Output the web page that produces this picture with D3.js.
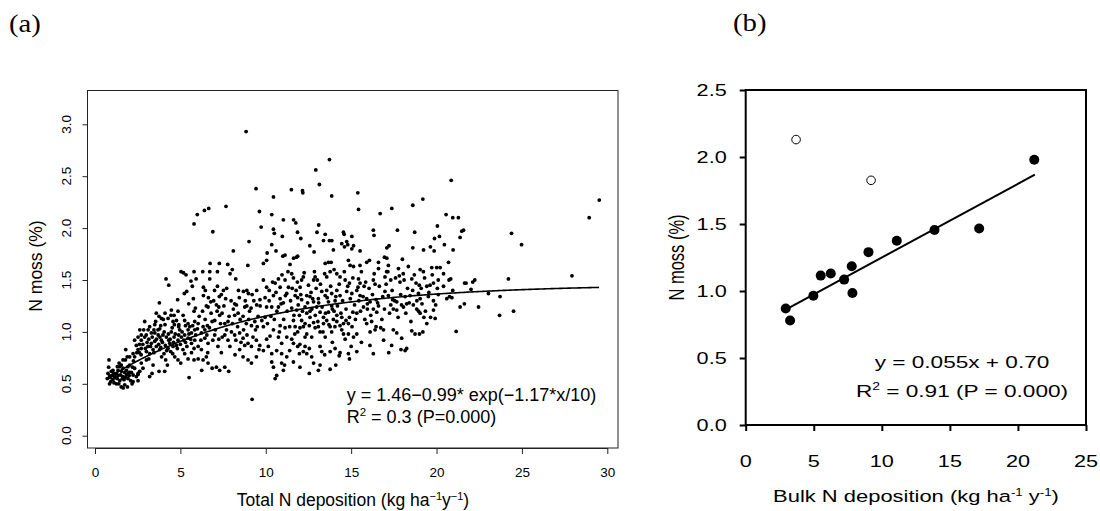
<!DOCTYPE html>
<html><head><meta charset="utf-8">
<script src="https://cdn.jsdelivr.net/npm/d3@7"></script>
<style>
body{margin:0;background:#fff}
svg{display:block}
text{font-family:"Liberation Sans",Arial,Helvetica,sans-serif;fill:#000}
</style>
</head><body>
<svg id="c" width="1100" height="511"></svg>
<script>
// ---------- Panel (a): total N deposition vs N moss ----------
const pointsA = [
// low-deposition cluster
[0.76,0.60],[0.86,0.575],[0.96,0.62],[0.72,0.55],[0.92,0.52],[1.05,0.54],[1.15,0.57],[1.25,0.60],[1.35,0.63],[1.45,0.665],
[1.54,0.68],[1.64,0.65],[1.74,0.61],[1.84,0.63],[1.93,0.665],[2.03,0.68],[2.13,0.61],[2.23,0.585],[2.32,0.65],[1.39,0.50],
[1.54,0.47],[1.74,0.49],[1.25,0.50],[1.11,0.51],[1.93,0.55],[2.09,0.53],[1.64,0.57],[1.5,0.585],[1.84,0.585],[2.03,0.61],
[2.17,0.50],[2.42,0.57],[2.52,0.60],[1.78,0.73],[1.89,0.76],[1.64,0.73],[1.41,0.70],[1.31,0.665],[1.05,0.63],[0.82,0.73],
[0.8,0.66],[0.9,0.56],[1.0,0.58],[1.2,0.56],[1.3,0.55],[1.45,0.53],[1.6,0.55],[1.7,0.54],[1.8,0.56],[2.0,0.58],
[0.85,0.5],[1.1,0.6],[1.35,0.58],[1.55,0.62],[1.95,0.6],[2.2,0.66],[1.65,0.46],[1.9,0.47],[1.8,0.83],[2.25,0.72],
// x < 9.7, upper part
[8.85,2.93],[9.43,2.38],[7.67,2.21],[6.66,2.19],[6.41,2.17],[5.99,2.13],[5.8,2.04],[6.9,1.965],[9.63,2.16],[9.02,1.87],
[8.1,1.78],[8.95,1.64],[7.28,1.66],[7.77,1.65],[8.04,1.60],[6.74,1.66],[5.04,1.58],[5.18,1.57],[5.33,1.55],[5.8,1.58],
[6.31,1.58],[6.72,1.58],[7.17,1.58],[7.91,1.56],[8.24,1.51],[4.16,1.51],[4.32,1.45],[5.92,1.51],[5.62,1.49],[6.72,1.51],
[5.7,1.44],[6.35,1.43],[6.46,1.40],[7.17,1.44],[7.71,1.42],[7.52,1.40],[7.4,1.36],[7.0,1.40],[5.37,1.39],[5.23,1.37],
[4.84,1.31],[5.76,1.32],[6.64,1.33],[7.28,1.34],[7.97,1.30],[8.69,1.39],[8.89,1.40],[8.98,1.37],[8.4,1.40],[9.47,1.40],
[9.66,1.31],[3.77,1.28],[8.89,1.25],[9.14,1.23],[9.47,1.26],
// x < 9.7, middle and lower part
[5.49,1.27],[5.88,1.23],[5.8,1.20],[4.86,1.20],[6.52,1.25],[6.62,1.24],[7.11,1.26],[7.25,1.24],[8.18,1.27],[8.28,1.26],
[8.77,1.24],[6.78,1.29],[3.59,1.18],[3.75,1.15],[2.91,1.10],[4.1,1.18],[4.28,1.13],[4.47,1.21],[4.63,1.16],[4.77,1.11],
[4.91,1.07],[5.16,1.16],[5.25,1.11],[5.45,1.08],[5.55,1.05],[5.84,1.10],[6.04,1.08],[6.33,1.05],[6.43,1.02],[6.58,1.06],
[6.86,1.10],[7.01,1.11],[7.3,1.16],[7.44,1.18],[7.6,1.08],[7.79,1.10],[8.18,1.16],[8.38,1.18],[8.67,1.15],[8.86,1.08],
[9.16,1.06],[9.36,1.10],[2.62,1.02],[2.71,0.97],[3.11,1.02],[3.3,0.99],[3.5,0.99],[3.69,1.02],[3.85,1.06],[3.98,0.97],
[4.18,0.95],[4.32,0.92],[4.47,1.00],[4.63,0.95],[4.86,0.92],[5.06,0.95],[5.25,0.97],[5.45,0.94],[5.65,0.89],[5.84,0.92],
[6.04,0.86],[6.23,0.83],[6.43,0.94],[6.62,0.89],[7.01,0.97],[7.25,0.93],[7.6,0.97],[7.79,0.92],[7.99,1.00],[8.18,0.97],
[8.47,0.99],[8.67,0.94],[8.77,0.87],[8.96,0.89],[9.16,0.86],[9.45,0.92],[9.65,0.87],[2.42,0.87],[2.52,0.83],[2.71,0.84],
[3.01,0.81],[3.2,0.79],[3.4,0.83],[3.59,0.86],[3.79,0.83],[4.04,0.79],[4.28,0.84],[4.43,0.81],[4.86,0.73],[5.02,0.70],
[4.67,0.76],[5.25,0.79],[5.45,0.74],[5.8,0.73],[6.04,0.74],[6.33,0.73],[6.52,0.76],[6.62,0.70],[6.86,0.65],[7.11,0.66],
[7.3,0.63],[7.6,0.66],[7.83,0.62],[8.47,0.83],[8.67,0.76],[8.96,0.73],[9.16,0.70],[9.45,0.76],[4.14,0.73],[4.24,0.68],
[3.4,0.68],[3.01,0.73],[2.71,0.70],[5.51,0.56],[9.2,0.35],[3.75,0.62],[4.08,0.62],[3.2,0.57],[3.34,0.60],[2.52,0.59],
[2.62,0.62],[2.81,0.65],[2.23,0.52],[2.52,0.53],[2.32,0.92],[2.52,0.95],[2.71,0.92],[2.91,0.95],[3.15,0.93],[3.3,0.89],
[3.5,0.91],[3.73,0.88],[3.89,0.92],[4.12,0.87],[4.38,0.89],[4.57,0.86],[4.77,0.87],[2.03,0.76],[2.23,0.79],[2.32,0.76],
[3.5,1.07],[3.79,1.03],[4.1,1.07],[3.2,1.05],[3.89,1.13],[4.57,1.10],[4.96,1.02],[5.45,1.02],[5.84,1.02],[6.23,0.99],
[5.65,0.99],[6.25,0.63],
[2.6,0.80],[2.8,0.88],[2.95,0.84],[3.05,0.90],[3.25,0.86],[3.35,0.95],[3.45,0.80],[3.6,0.93],[3.7,0.97],[3.85,0.85],
[3.95,0.90],[4.05,1.00],[4.2,0.82],[4.3,0.98],[4.4,0.93],[4.52,1.04],[4.6,0.90],[4.7,0.98],[4.82,0.84],[4.9,1.05],
[5.0,0.88],[5.1,1.00],[5.2,0.92],[5.3,1.06],[5.38,0.86],[5.5,0.98],[5.6,0.93],[5.72,1.06],[5.8,0.84],[5.9,0.97],
[6.0,1.03],[2.85,1.02],[3.0,0.97],[3.55,1.10],[4.0,1.12],[4.45,1.16],[2.7,0.78],[3.15,0.74],[3.9,0.76],[4.55,0.79],
[5.15,0.83],[5.65,0.80],[2.45,0.80],[2.6,0.88],[3.45,1.02],[4.9,0.97],[5.3,0.90],[3.1,0.86],[3.8,0.95],[4.65,1.07],
[6.1,1.15],[6.2,0.92],[6.3,1.20],[6.45,1.12],[6.55,0.97],[6.7,1.04],[6.8,1.18],[6.9,0.92],[7.05,1.02],[7.15,1.20],
[7.2,0.86],[7.35,1.08],[7.45,0.95],[7.55,1.25],[7.7,1.02],[7.85,1.15],[7.9,0.86],[8.05,1.08],[8.1,1.22],[8.25,0.92],
[8.35,1.05],[8.5,1.12],[8.55,0.90],[8.7,1.02],[8.8,1.30],[8.9,0.97],[9.0,1.12],[9.05,1.20],[9.25,0.95],[9.3,1.30],
[9.4,1.02],[9.55,1.15],[9.6,0.83],[6.35,1.35],[6.95,1.30],[7.65,1.32],[8.45,1.33],[9.2,1.36],[7.4,0.80],[8.2,0.78],
[6.6,0.80],[9.5,1.05],
// 9.7 <= x <= 20.2, upper part
[13.73,2.66],[12.93,2.56],[13.14,2.42],[11.5,2.37],[12.15,2.36],[12.17,2.34],[13.86,2.31],[10.45,2.30],[10.35,2.13],[9.73,2.01],
[10.45,1.99],[10.5,1.95],[11.03,2.08],[11.63,2.08],[11.76,2.05],[11.86,1.96],[12.05,1.90],[12.58,1.83],[13.1,2.03],[13.0,1.96],
[13.48,1.94],[13.38,1.88],[13.87,1.88],[13.73,1.88],[10.35,1.84],[10.6,1.78],[10.97,1.92],[10.08,1.76],[11.0,1.73],[11.13,1.74],
[11.87,1.73],[12.83,1.77],[13.96,1.79],[11.63,1.71],[11.8,1.72],
[15.39,2.34],[15.43,2.18],[16.7,2.14],[17.38,2.19],[18.61,2.22],[19.2,2.28],[20.05,2.02],[20.17,1.92],[19.88,1.90],[19.24,1.79],
[19.64,1.82],[19.86,1.78],[17.71,1.98],[18.72,1.96],[16.3,1.98],[16.34,1.93],[15.04,1.92],[14.55,1.96],[14.59,1.94],[17.22,1.83],
[17.09,1.81],[16.95,1.72],[17.09,1.71],[18.0,1.70],[18.61,1.81],[15.52,1.78],[15.14,1.83],[15.04,1.80],[14.74,1.87],[14.8,1.84],
[14.45,1.85],[14.61,1.82],
// 9.7 <= x <= 20.2, dense part
[10.05,1.69],[9.86,1.66],[11.42,1.65],[13.48,1.66],[13.67,1.67],[13.83,1.67],[14.84,1.69],[14.94,1.64],[15.14,1.63],[15.52,1.64],
[15.91,1.67],[16.07,1.69],[16.6,1.67],[16.6,1.61],[17.18,1.64],[17.08,1.58],[17.82,1.54],[17.77,1.61],[18.35,1.63],[19.04,1.60],
[19.23,1.58],[19.72,1.62],[20.01,1.62],[11.52,1.56],[11.62,1.52],[12.1,1.50],[12.2,1.53],[12.89,1.53],[13.02,1.50],[12.8,1.50],
[13.57,1.53],[13.77,1.58],[14.16,1.56],[14.35,1.53],[14.65,1.50],[14.9,1.47],[15.43,1.51],[15.52,1.47],[15.76,1.44],[16.3,1.50],
[16.4,1.46],[16.98,1.53],[17.32,1.50],[17.86,1.48],[18.1,1.50],[18.55,1.51],[18.8,1.47],[18.99,1.45],[19.43,1.44],[19.62,1.45],
[19.82,1.47],[20.1,1.50],[10.45,1.35],[10.2,1.40],[10.84,1.43],[11.33,1.43],[11.78,1.40],[11.72,1.35],[11.87,1.33],[12.4,1.35],
[12.59,1.34],[12.75,1.32],[13.28,1.39],[13.48,1.35],[13.57,1.40],[13.86,1.37],[14.16,1.40],[14.35,1.35],[14.74,1.39],[15.04,1.37],
[15.33,1.40],[15.52,1.35],[15.91,1.32],[16.11,1.29],[16.46,1.31],[16.98,1.39],[17.18,1.35],[17.43,1.31],[17.67,1.29],[18.16,1.34],
[18.45,1.35],[18.94,1.37],[19.04,1.32],[19.52,1.34],[19.82,1.30],[20.1,1.36],[9.67,1.25],[10.05,1.24],[10.35,1.24],[10.74,1.24],
[11.03,1.28],[11.52,1.23],[11.81,1.21],[11.97,1.16],[12.3,1.24],[12.4,1.18],[12.59,1.20],[12.98,1.24],[13.18,1.19],[13.38,1.14],
[13.86,1.25],[14.0,1.20],[14.16,1.16],[14.45,1.14],[14.7,1.11],[14.84,1.08],[15.1,1.19],[15.33,1.18],[15.72,1.24],[15.95,1.22],
[16.3,1.22],[16.5,1.19],[16.6,1.25],[17.32,1.26],[17.47,1.22],[17.67,1.21],[18.06,1.24],[18.25,1.27],[18.64,1.26],[18.84,1.22],
[19.04,1.18],[19.26,1.14],[19.43,1.08],[19.82,1.21],[19.92,1.13],[19.2,1.00],[19.0,0.98],[9.77,1.11],[9.96,1.14],[9.86,1.05],
[10.45,1.02],[10.84,1.06],[11.13,1.04],[10.25,0.96],[10.05,0.93],[10.74,0.95],[10.93,0.89],[11.23,0.95],[11.52,0.93],[11.62,1.11],
[11.72,1.05],[11.87,1.00],[12.1,1.11],[12.2,1.05],[12.3,1.08],[12.4,0.98],[12.69,0.95],[13.08,1.05],[13.18,1.00],[13.48,0.95],
[13.77,1.05],[13.86,1.00],[14.16,1.10],[14.35,1.06],[14.45,1.02],[14.55,0.98],[14.65,0.93],[14.84,0.98],[15.14,0.95],[15.33,0.98],
[15.91,1.08],[16.2,1.10],[16.46,1.05],[16.11,1.00],[16.4,1.02],[16.73,1.04],[16.89,1.02],[17.47,1.02],[17.67,0.99],[17.96,0.94],
[18.55,1.01],[18.74,0.98],[17.37,0.87],[18.25,0.84],[18.16,0.82],[9.86,0.82],[10.15,0.86],[10.35,0.79],[10.64,0.82],[10.93,0.79],
[11.23,0.76],[11.62,0.89],[11.87,0.86],[11.97,0.79],[12.3,0.86],[12.4,0.79],[12.69,0.76],[12.8,0.70],[13.18,0.86],[13.28,0.81],
[13.77,0.81],[14.06,0.84],[14.84,0.79],[14.9,0.74],[15.33,0.81],[16.3,0.79],[10.35,0.71],[10.45,0.66],[10.64,0.58],[10.55,0.55],
[11.03,0.63],[10.93,0.70],[13.08,0.63],[13.77,0.64],[12.2,0.81],[11.62,0.71],[13.18,0.68],[14.35,0.80],[17.92,0.83],
[9.86,1.50],[10.05,1.43],[10.55,1.47],[10.74,1.51],[11.13,1.50],[11.23,1.37],[10.84,1.32],[9.96,1.33],[12.01,1.43],[12.1,1.31],
[12.59,1.14],[12.8,1.09],[12.89,1.04],[13.38,1.08],[13.57,1.11],[13.67,1.19],[13.96,1.12],[12.8,1.29],[13.08,1.32],[13.67,1.29],
[14.06,1.30],
[10.1,1.08],[10.2,1.30],[10.3,1.15],[10.4,1.48],[10.5,1.12],[10.6,1.38],[10.65,1.20],[10.8,1.00],[10.9,1.27],[10.95,1.55],
[11.05,1.12],[11.15,1.35],[11.25,1.20],[11.3,1.58],[11.4,1.05],[11.45,1.30],[11.55,1.42],[11.65,1.16],[11.7,0.98],[11.85,1.48],
[11.9,1.26],[12.0,1.04],[12.05,1.36],[12.15,1.20],[12.25,1.57],[12.3,0.95],[12.45,1.28],[12.5,1.45],[12.55,1.06],[12.65,1.38],
[12.7,1.22],[12.85,1.58],[12.9,1.16],[12.95,1.42],[13.05,1.10],[13.1,1.28],[13.2,1.46],[13.3,1.24],[13.35,1.00],[13.45,1.56],
[13.5,1.18],[13.6,1.33],[13.7,1.07],[13.8,1.44],[13.9,1.22],[14.0,1.60],[14.05,1.05],[14.1,1.34],[14.2,1.25],[14.3,1.46],
[14.4,1.18],[14.5,1.30],[14.55,1.08],[14.6,1.58],[14.7,1.22],[14.8,1.44],[14.9,1.14],[14.95,1.32],[15.05,1.05],[15.1,1.52],
[15.2,1.26],[15.25,1.12],[15.4,1.43],[15.45,1.30],[15.55,1.20],[15.6,1.58],[15.7,1.34],[15.8,1.12],[15.85,1.48],[15.95,1.27],
[16.05,1.42],[16.15,1.16],[16.25,1.36],[16.35,1.56],[16.55,1.28],[16.65,1.44],[16.8,1.12],[16.85,1.34],[16.95,1.22],[17.05,1.46],
[17.15,1.58],[17.25,1.18],[17.4,1.40],[17.55,1.30],[17.6,1.52],[17.75,1.14],[17.9,1.36],[17.95,1.26],[18.05,1.56],[18.2,1.18],
[18.3,1.42],[18.4,1.28],[18.5,1.10],[18.6,1.40],[18.7,1.55],[18.85,1.30],[18.95,1.20],[19.1,1.42],[19.15,1.27],[19.3,1.52],
[19.35,1.20],[19.55,1.38],[19.65,1.14],[19.75,1.55],[19.95,1.26],[20.05,1.42],
[11.4,0.82],[12.0,0.88],[12.55,0.84],[13.45,0.78],[13.9,0.90],[14.3,0.77],[15.0,0.86],[15.6,0.90],[16.1,0.87],[16.9,0.92],
[17.2,0.80],[11.1,0.68],[12.0,0.66],[14.1,0.68],[12.55,0.60],
// x > 20.2
[20.86,2.46],[20.56,2.13],[20.95,2.10],[21.28,2.10],[21.58,1.98],[21.48,1.97],[21.38,1.91],[20.46,1.84],[20.97,1.79],[20.7,1.67],
[20.21,1.62],[20.41,1.56],[20.73,1.50],[20.83,1.51],[21.64,1.47],[21.73,1.47],[22.12,1.48],[22.24,1.50],[20.41,1.44],[23.72,1.34],
[23.04,1.37],[23.69,1.16],[24.51,1.20],[22.46,1.24],[21.15,1.005],[21.38,1.24],[21.63,1.27],[20.6,1.32],[20.76,1.34],[20.9,1.33],
[20.95,1.40],[22.02,1.41],[24.21,1.51],[24.39,1.95],[24.98,1.84],[27.93,1.54],[28.94,2.10],[29.53,2.27]
];
const fitA = [1.46, 0.99, 1.17];          // y = a - b*exp(-c*x/10)
const xTicksA = [0, 5, 10, 15, 20, 25, 30];
const yTicksA = [0, 0.5, 1, 1.5, 2, 2.5, 3];
const yTickLabelsA = ["0.0", "0.5", "1.0", "1.5", "2.0", "2.5", "3.0"];
const eqA = ["y = 1.46\u22120.99* exp(\u22121.17*x/10)", " = 0.3 (P=0.000)"];

// ---------- Panel (b): bulk N deposition vs N moss ----------
const filledB = [[2.94,0.87],[3.26,0.78],[4.97,0.965],[5.51,1.115],[6.25,1.13],[7.23,1.085],[7.79,1.185],[7.84,0.985],
                 [9.02,1.29],[11.1,1.375],[13.87,1.455],[17.15,1.467],[21.2,1.98]];
const openB = [[3.7,2.13],[9.21,1.826]];
const fitB = [0.055, 0.70];               // y = m*x + c
const fitRangeB = [2.94, 21.24];
const xTicksB = [0, 5, 10, 15, 20, 25];
const yTicksB = [0, 0.5, 1, 1.5, 2, 2.5];
const yTickLabelsB = ["0.0", "0.5", "1.0", "1.5", "2.0", "2.5"];
const eqB = ["y = 0.055x + 0.70", " = 0.91 (P = 0.000)"];

const svg = d3.select("#c");
const SX = 1.33; // horizontal text stretch of panel (b)

// ===== Panel (a) =====
const xA = d3.scaleLinear().domain([0, 30]).range([95, 607.3]);
const yA = d3.scaleLinear().domain([0, 3]).range([435.7, 124.3]);
const gA = svg.append("g");

gA.append("rect").attr("x", 87.5).attr("y", 90.5).attr("width", 530.5).attr("height", 357.5)
  .attr("fill", "none").attr("stroke", "#222").attr("stroke-width", 1);

gA.append("g").selectAll("circle").data(pointsA).join("circle")
  .attr("cx", d => xA(d[0])).attr("cy", d => yA(d[1])).attr("r", 1.9).attr("fill", "#000");

const xMinA = d3.min(pointsA, d => d[0]), xMaxA = d3.max(pointsA, d => d[0]);
const curveA = d3.range(xMinA, xMaxA + 0.001, 0.1).map(x => [x, fitA[0] - fitA[1] * Math.exp(-fitA[2] * x / 10)]);
gA.append("path").datum(curveA)
  .attr("d", d3.line().x(d => xA(d[0])).y(d => yA(d[1])))
  .attr("fill", "none").attr("stroke", "#000").attr("stroke-width", 1.6);

// x axis (a)
const axA = gA.append("g").attr("transform", "translate(0,448)")
  .call(d3.axisBottom(xA).tickValues(xTicksA).tickSize(6).tickSizeOuter(0).tickPadding(13.5));
axA.select(".domain").attr("stroke", "#222");
axA.selectAll("line").attr("stroke", "#222");
axA.selectAll("text").attr("font-size", "13.5px").attr("font-family", "Liberation Sans, Arial, sans-serif").attr("fill", "#000");

// y axis (a)
const ayA = gA.append("g").attr("transform", "translate(87.5,0)")
  .call(d3.axisLeft(yA).tickValues(yTicksA).tickSize(5).tickSizeOuter(0).tickFormat(""));
ayA.select(".domain").remove();
ayA.selectAll("line").attr("stroke", "#222");
gA.append("g").selectAll("text").data(yTicksA).join("text")
  .attr("transform", d => `translate(71,${yA(d)}) rotate(-90)`)
  .attr("text-anchor", "middle").attr("font-size", "13.5px")
  .text((d, i) => yTickLabelsA[i]);

// axis titles (a)
const tA = gA.append("text").attr("x", 353).attr("y", 506).attr("text-anchor", "middle").attr("font-size", "17.5px");
tA.append("tspan").text("Total N deposition (kg ha");
tA.append("tspan").attr("dy", -6.5).attr("font-size", "11px").text("\u22121");
tA.append("tspan").attr("dy", 6.5).text("y");
tA.append("tspan").attr("dy", -6.5).attr("font-size", "11px").text("\u22121");
tA.append("tspan").attr("dy", 6.5).text(")");

gA.append("text").attr("transform", "translate(41.5,266) rotate(-90)")
  .attr("text-anchor", "middle").attr("font-size", "17.5px").text("N moss (%)");

// equation (a)
gA.append("text").attr("x", 346.7).attr("y", 400.7).attr("font-size", "18px").text(eqA[0]);
const r2A = gA.append("text").attr("x", 346.7).attr("y", 423.3).attr("font-size", "18px");
r2A.append("tspan").text("R");
r2A.append("tspan").attr("dy", -7).attr("font-size", "11.5px").text("2");
r2A.append("tspan").attr("dy", 7).text(eqA[1]);

// panel label (a)
svg.append("text").attr("transform", `translate(9,32) scale(1.15,1)`)
  .style("font-family", "'Liberation Serif','Times New Roman',serif")
  .attr("font-size", "25px").text("(a)");

// ===== Panel (b) =====
const xB = d3.scaleLinear().domain([0, 25]).range([745.7, 1086]);
const yB = d3.scaleLinear().domain([0, 2.5]).range([425, 90]);
const gB = svg.append("g");

function sText(parent, x, y, size, anchor, rot) {
  const g = parent.append("g").attr("transform", `translate(${x},${y}) scale(${SX},1)` + (rot ? ` rotate(${rot})` : ""));
  return g.append("text").attr("font-size", size + "px").attr("text-anchor", anchor);
}

gB.append("rect").attr("x", xB(0)).attr("y", yB(2.5)).attr("width", xB(25) - xB(0)).attr("height", yB(0) - yB(2.5))
  .attr("fill", "none").attr("stroke", "#000").attr("stroke-width", 2);

const ayB = gB.append("g").attr("transform", `translate(${xB(0)},0)`)
  .call(d3.axisLeft(yB).tickValues(yTicksB).tickSize(6).tickSizeOuter(0).tickFormat(""));
ayB.select(".domain").remove();
ayB.selectAll("line").attr("stroke", "#000").attr("stroke-width", 2);
const axB = gB.append("g").attr("transform", `translate(0,${yB(0)})`)
  .call(d3.axisBottom(xB).tickValues(xTicksB).tickSize(6).tickSizeOuter(0).tickFormat(""));
axB.select(".domain").remove();
axB.selectAll("line").attr("stroke", "#000").attr("stroke-width", 2);

yTicksB.forEach((t, i) => sText(gB, 726.7, yB(t), 16.3, "end").attr("dy", "0.36em").text(yTickLabelsB[i]));
xTicksB.forEach(t => sText(gB, xB(t), 466.7, 16.3, "middle").text(String(t)));

// fit line (b)
gB.append("line")
  .attr("x1", xB(fitRangeB[0])).attr("y1", yB(fitB[0] * fitRangeB[0] + fitB[1]))
  .attr("x2", xB(fitRangeB[1])).attr("y2", yB(fitB[0] * fitRangeB[1] + fitB[1]))
  .attr("stroke", "#000").attr("stroke-width", 2);

gB.append("g").selectAll("circle").data(filledB).join("circle")
  .attr("cx", d => xB(d[0])).attr("cy", d => yB(d[1])).attr("r", 5).attr("fill", "#000");
gB.append("g").selectAll("circle").data(openB).join("circle")
  .attr("cx", d => xB(d[0])).attr("cy", d => yB(d[1])).attr("r", 4.3)
  .attr("fill", "#fff").attr("stroke", "#000").attr("stroke-width", 1);

// equation (b)
sText(gB, 962, 368.3, 17, "middle").text(eqB[0]);
const r2B = sText(gB, 962, 397.3, 17, "middle");
r2B.append("tspan").text("R");
r2B.append("tspan").attr("dy", -7).attr("font-size", "10.5px").text("2");
r2B.append("tspan").attr("dy", 7).text(eqB[1]);

// axis titles (b)
const tB = sText(gB, 916, 501.7, 16.5, "middle");
tB.append("tspan").text("Bulk N deposition (kg ha");
tB.append("tspan").attr("dy", -6).attr("font-size", "10px").text("-1");
tB.append("tspan").attr("dy", 6).text(" y");
tB.append("tspan").attr("dy", -6).attr("font-size", "10px").text("-1");
tB.append("tspan").attr("dy", 6).text(")");

sText(gB, 684, 257.5, 16.5, "middle", -90).text("N moss (%)");

// panel label (b)
svg.append("text").attr("transform", `translate(733,31) scale(1.15,1)`)
  .style("font-family", "'Liberation Serif','Times New Roman',serif")
  .attr("font-size", "25px").text("(b)");
</script>
</body></html>
